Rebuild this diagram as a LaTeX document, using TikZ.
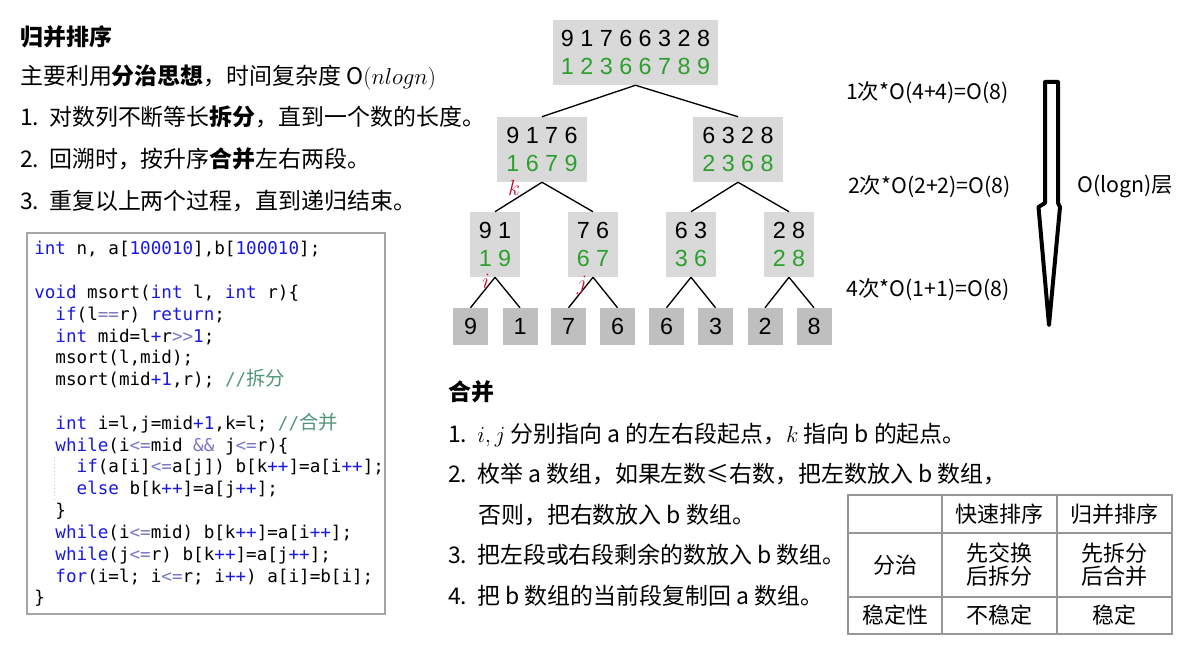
\RequirePackage{fix-cm}
\documentclass[tikz,border=0pt]{standalone}
\usepackage{fontspec}
\setmainfont{Noto Sans CJK SC}
\newfontfamily\cjkc{Noto Sans CJK SC}
\newfontfamily\digitfont{Liberation Sans}
\newfontfamily\codefont{DejaVu Sans Mono}
\definecolor{boxgray}{RGB}{217,217,217}
\definecolor{leafgray}{RGB}{191,191,191}
\definecolor{tgreen}{RGB}{44,160,44}
\definecolor{kred}{RGB}{200,16,46}
\definecolor{kwblue}{RGB}{25,25,230}
\definecolor{opblue}{RGB}{120,120,200}
\definecolor{cmtgreen}{RGB}{80,150,120}
\definecolor{framegray}{RGB}{166,166,166}
\definecolor{tablegray}{RGB}{150,150,150}
\newcommand\kw[1]{\textcolor{kwblue}{#1}}
\newcommand\opc[1]{\textcolor{opblue}{#1}}
\newcommand\cmt[1]{\textcolor{cmtgreen}{#1}}
\newcommand\cmtcjk[1]{{\cjkc\fontsize{14.5}{16}\selectfont #1}}
\newcommand\numbox[1]{\makebox[21.75pt][l]{#1}}
\begin{document}
\begin{tikzpicture}[x=0.75pt,y=-0.75pt,
  tbox/.style={rectangle, fill=boxgray, inner sep=0pt, minimum height=48.75pt, align=center,
     font=\digitfont\fontsize{17.5}{21}\selectfont},
  leafbox/.style={rectangle, fill=leafgray, inner sep=0pt, minimum width=26.25pt, minimum height=27.75pt,
     font=\digitfont\fontsize{17.5}{21}\selectfont},
  link/.style={draw=black, line width=1pt},
  txt/.style={anchor=base west, inner sep=0pt, font=\fontsize{17.2}{20}\selectfont},
  codeline/.style={anchor=base west, inner sep=0pt, font=\codefont\fontsize{13.2}{16}\selectfont},
  ptr/.style={text=kred, inner sep=0pt, font=\fontsize{16.5}{18}\selectfont},
  tcell/.style={inner sep=0pt, align=center, font=\fontsize{16.5}{17.25}\selectfont},
  cost/.style={inner sep=0pt, font=\fontsize{16}{18}\selectfont},
  tline/.style={draw=tablegray, line width=1.1pt}
]
\useasboundingbox[fill=white] (0,0) rectangle (1197,652);

% ---- left text ----
\node[txt] (title) at (20,46) {\textbf{归并排序}};
\node[txt] (intro) at (20,85) {主要利用\textbf{分治思想}，时间复杂度 O$(nlogn)$};
\node[txt] (s1) at (20,126) {\numbox{1.}对数列不断等长\textbf{拆分}，直到一个数的长度。};
\node[txt] (s2) at (20,168) {\numbox{2.}回溯时，按升序\textbf{合并}左右两段。};
\node[txt] (s3) at (20,210) {\numbox{3.}重复以上两个过程，直到递归结束。};

% ---- code box ----
\draw[draw=framegray, line width=1.1pt] (27,233) rectangle (385,614);
\draw[gray!45, dotted, line width=0.6pt] (54,457) -- (54,500);
\node[codeline] (c0) at (34,255) {\kw{int} n, a[\kw{100010}],b[\kw{100010}];};
\node[codeline] (c2) at (34,298.6) {\kw{void} msort(\kw{int} l, \kw{int} r)\{};
\node[codeline] (c3) at (55.2,320.4) {\kw{if}(l\opc{==}r) \kw{return};};
\node[codeline] (c4) at (55.2,342.2) {\kw{int} mid=l\kw{+}r\opc{>>}\kw{1};};
\node[codeline] (c5) at (55.2,364) {msort(l,mid);};
\node[codeline] (c6) at (55.2,385.8) {msort(mid\kw{+1},r); \cmt{//\cmtcjk{拆分}}};
\node[codeline] (c8) at (55.2,429.4) {\kw{int} i=l,j=mid\kw{+1},k=l; \cmt{//\cmtcjk{合并}}};
\node[codeline] (c9) at (55.2,451.2) {\kw{while}(i\opc{<=}mid \opc{\&\&} j\opc{<=}r)\{};
\node[codeline] (c10) at (76.4,473) {\kw{if}(a[i]\opc{<=}a[j]) b[k\kw{++}]=a[i\kw{++}];};
\node[codeline] (c11) at (76.4,494.8) {\kw{else} b[k\kw{++}]=a[j\kw{++}];};
\node[codeline] (c12) at (55.2,516.6) {\}};
\node[codeline] (c13) at (55.2,538.4) {\kw{while}(i\opc{<=}mid) b[k\kw{++}]=a[i\kw{++}];};
\node[codeline] (c14) at (55.2,560.2) {\kw{while}(j\opc{<=}r) b[k\kw{++}]=a[j\kw{++}];};
\node[codeline] (c15) at (55.2,582) {\kw{for}(i=l; i\opc{<=}r; i\kw{++}) a[i]=b[i];};
\node[codeline] (c16) at (34,603.8) {\}};

% ---- tree ----
\node[tbox, minimum width=123.75pt] (top) at (635.5,52.5) {9 1 7 6 6 3 2 8\\\textcolor{tgreen}{1 2 3 6 6 7 8 9}};
\node[tbox, minimum width=67.5pt] (la) at (542,149.5) {9 1 7 6\\\textcolor{tgreen}{1 6 7 9}};
\node[tbox, minimum width=67.5pt] (lb) at (738,149.5) {6 3 2 8\\\textcolor{tgreen}{2 3 6 8}};
\node[tbox, minimum width=37.5pt] (ma) at (495,244.5) {9 1\\\textcolor{tgreen}{1 9}};
\node[tbox, minimum width=37.5pt] (mb) at (593,244.5) {7 6\\\textcolor{tgreen}{6 7}};
\node[tbox, minimum width=37.5pt] (mc) at (691,244.5) {6 3\\\textcolor{tgreen}{3 6}};
\node[tbox, minimum width=37.5pt] (md) at (789,244.5) {2 8\\\textcolor{tgreen}{2 8}};
\node[leafbox] (f1) at (470.5,326.5) {9};
\node[leafbox] (f2) at (520,326.5) {1};
\node[leafbox] (f3) at (568.5,326.5) {7};
\node[leafbox] (f4) at (617.5,326.5) {6};
\node[leafbox] (f5) at (666.5,326.5) {6};
\node[leafbox] (f6) at (715.5,326.5) {3};
\node[leafbox] (f7) at (765,326.5) {2};
\node[leafbox] (f8) at (814,326.5) {8};
\draw[link] (top.south) -- (la.north);
\draw[link] (top.south) -- (lb.north);
\draw[link] (la.south) -- (ma.north);
\draw[link] (la.south) -- (mb.north);
\draw[link] (lb.south) -- (mc.north);
\draw[link] (lb.south) -- (md.north);
\draw[link] (ma.south) -- (f1.north);
\draw[link] (ma.south) -- (f2.north);
\draw[link] (mb.south) -- (f3.north);
\draw[link] (mb.south) -- (f4.north);
\draw[link] (mc.south) -- (f5.north);
\draw[link] (mc.south) -- (f6.north);
\draw[link] (md.south) -- (f7.north);
\draw[link] (md.south) -- (f8.north);
\node[ptr] (pk) at (514,188) {$k$};
\node[ptr] (pi) at (486,281) {$i$};
\node[ptr] (pj) at (582,285) {$j$};

% ---- cost labels and arrow ----
\node[cost] (cost1) at (927.5,93) {1次*O(4+4)=O(8)};
\node[cost] (cost2) at (929.5,187) {2次*O(2+2)=O(8)};
\node[cost] (cost3) at (928,290) {4次*O(1+1)=O(8)};
\node[cost] (layers) at (1125,186) {O(logn)层};
\draw[line width=3pt, line join=round] (1045,82) -- (1058,82) -- (1058,203) -- (1060,207)
   -- (1049,325) -- (1038.5,207) -- (1045,203) -- cycle;

% ---- merge text ----
\node[txt] (mt) at (448,401) {\textbf{合并}};
\node[txt] (m1) at (448,442) {\numbox{1.}$i,j$ 分别指向 a 的左右段起点，$k$ 指向 b 的起点。};
\node[txt] (m2) at (448,483) {\numbox{2.}枚举 a 数组，如果左数≤右数，把左数放入 b 数组，};
\node[txt] (m3) at (478,523) {否则，把右数放入 b 数组。};
\node[txt] (m4) at (448,563) {\numbox{3.}把左段或右段剩余的数放入 b 数组。};
\node[txt] (m5) at (448,604) {\numbox{4.}把 b 数组的当前段复制回 a 数组。};

% ---- table ----
\draw[tline] (848,495) rectangle (1172,634);
\draw[tline] (942,495) -- (942,634);
\draw[tline] (1057,495) -- (1057,634);
\draw[tline] (848,533) -- (1172,533);
\draw[tline] (848,597) -- (1172,597);
\node[tcell] (h2) at (999.5,514) {快速排序};
\node[tcell] (h3) at (1114.5,514) {归并排序};
\node[tcell] (r1) at (895,565) {分治};
\node[tcell] (r12) at (999.5,565) {先交换\\后拆分};
\node[tcell] (r13) at (1114.5,565) {先拆分\\后合并};
\node[tcell] (r2) at (895,615.5) {稳定性};
\node[tcell] (r22) at (999.5,615.5) {不稳定};
\node[tcell] (r23) at (1114.5,615.5) {稳定};
\end{tikzpicture}
\end{document}
